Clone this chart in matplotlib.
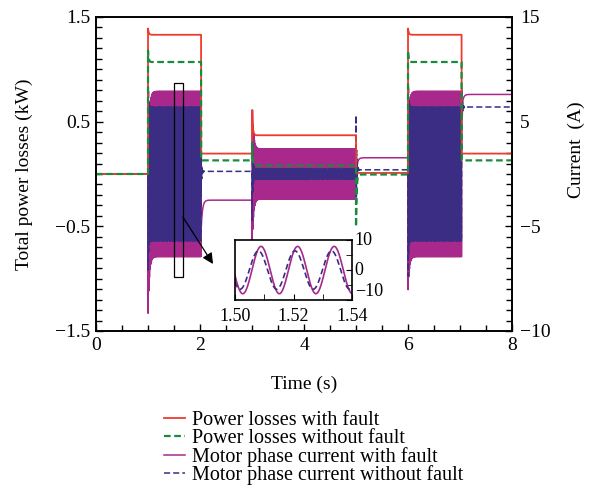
import numpy as np
import matplotlib
matplotlib.use("Agg")
import matplotlib.pyplot as plt
from matplotlib.patches import Rectangle
from matplotlib.ticker import FixedLocator, FixedFormatter, MultipleLocator

plt.rcParams["font.family"] = ["Liberation Serif", "DejaVu Serif"]
plt.rcParams["axes.unicode_minus"] = True

# ---- operating segments (s) ----
seg_edges = [0.0, 1.0, 2.02, 3.0, 5.0, 6.0, 7.03, 8.0]

# total power losses (kW): settled level and start-up overshoot per segment
loss_fault_kw = [0.0, 1.33, 0.195, 0.37, 0.01, 1.33, 0.195]
loss_fault_kick = [0.0, 0.06, 0.0, 0.24, 0.0, 0.06, 0.0]
loss_nofault_kw = [0.0, 1.07, 0.13, 0.08, -0.005, 1.07, 0.13]
loss_nofault_kick = [0.0, 0.11, 0.0, 0.22, -0.5, 0.11, 0.0]

# motor phase current (A): dc level, ac amplitude, transient offset, amplitude surge
cur_fault_dc = [0.0, 0.0, -2.5, 0.0, 1.55, 0.0, 7.6]
cur_fault_amp = [0.0, 7.9, 0.0, 2.4, 0.0, 7.9, 0.0]
cur_fault_kick = [0.0, -6.0, -3.0, 0.0, -1.5, -3.5, -1.5]
cur_fault_surge = [0.0, 0.0, 0.0, 2.2, 0.0, 0.0, 0.0]

cur_nofault_dc = [0.0, 0.0, 0.25, 0.0, 0.4, 0.0, 6.4]
cur_nofault_amp = [0.0, 6.4, 0.0, 0.5, 0.0, 6.4, 0.0]
cur_nofault_kick = [0.0, 0.0, -2.0, 0.0, 5.2, 0.0, -3.0]
cur_nofault_surge = [0.0, 0.5, 0.0, 9.0, 0.0, 0.6, 0.0]

freq_hz = 80.0
phase_fault = -2.903
phase_nofault = -2.45

t = np.linspace(0.0, 8.0, 200001)


def build(levels, kicks, amps=None, surges=None, phase=0.0, tau=0.015, ring=False):
    y = np.zeros_like(t)
    for i in range(len(levels)):
        t0, t1 = seg_edges[i], seg_edges[i + 1]
        m = (t >= t0) & (t < t1) if i < len(levels) - 1 else (t >= t0)
        tau_loc = t[m] - t0
        decay = np.exp(-tau_loc / tau)
        kick = kicks[i] * decay
        if ring:
            kick = kick * np.cos(2 * np.pi * freq_hz * tau_loc)
        val = levels[i] + kick
        if amps is not None and amps[i] > 0:
            a = amps[i] * (1.0 + surges[i] * decay)
            val = val + a * np.sin(2 * np.pi * freq_hz * t[m] + phase)
        y[m] = val
    return y


p_fault = build(loss_fault_kw, loss_fault_kick)
p_nofault = build(loss_nofault_kw, loss_nofault_kick, tau=0.012)
i_fault = build(cur_fault_dc, cur_fault_kick, cur_fault_amp, cur_fault_surge,
                phase_fault, tau=0.025)
i_nofault = build(cur_nofault_dc, cur_nofault_kick, cur_nofault_amp,
                  cur_nofault_surge, phase_nofault, tau=0.012, ring=True)

c_red = "#EE3B2E"
c_green = "#1B8A3C"
c_mag = "#A8288C"
c_blue = "#3B2C84"

fig = plt.figure(figsize=(5.92, 4.91), dpi=100)
ax = fig.add_axes([0.1622, 0.3259, 0.7027, 0.6395])
ax2 = ax.twinx()
ax.set_zorder(ax2.get_zorder() + 1)
ax.patch.set_visible(False)

# currents (right axis, drawn behind)
l_mag, = ax2.plot(t, i_fault, color=c_mag, lw=1.1)
l_blue, = ax2.plot(t, i_nofault, color=c_blue, lw=1.1, ls=(0, (4, 2)))

# power losses (left axis, drawn in front)
l_red, = ax.plot(t, p_fault, color=c_red, lw=1.3)
l_green, = ax.plot(t, p_nofault, color=c_green, lw=1.6, ls=(0, (3, 1.6)))

ax.set_xlim(0, 8)
ax.set_ylim(-1.5, 1.5)
ax2.set_ylim(-15, 15)

fs = 14
ax.xaxis.set_major_locator(FixedLocator([0, 2, 4, 6, 8]))
ax.xaxis.set_minor_locator(MultipleLocator(0.5))
ax.yaxis.set_major_locator(FixedLocator([-1.5, -0.5, 0.5, 1.5]))
ax.yaxis.set_major_formatter(FixedFormatter(["\u22121.5", "\u22120.5", "0.5", "1.5"]))
ax.yaxis.set_minor_locator(MultipleLocator(0.1))
ax2.yaxis.set_major_locator(FixedLocator([-15, -5, 5, 15]))
ax2.yaxis.set_major_formatter(FixedFormatter(["\u221210", "\u22125", "5", "15"]))
ax2.yaxis.set_minor_locator(MultipleLocator(1))

ax.tick_params(which="both", direction="in", top=False, right=False,
               labelsize=fs, pad=4)
ax.tick_params(which="major", length=5, width=1.0)
ax.tick_params(which="minor", length=4, width=1.0)
ax2.tick_params(which="both", direction="in", labelsize=fs, pad=6)
ax2.tick_params(which="major", length=5, width=1.0)
ax2.tick_params(which="minor", length=4, width=1.0)

for a in (ax, ax2):
    for s in a.spines.values():
        s.set_linewidth(1.2)

ax.set_xlabel("Time (s)", fontsize=fs, labelpad=16)
ax.set_ylabel("Total power losses (kW)", fontsize=fs, labelpad=16)
ax2.set_ylabel("Current  (A)", fontsize=fs)
ax2.yaxis.set_label_coords(1.135, 0.576)

# zoom window marker and arrow
ax.add_patch(Rectangle((1.5, -0.98), 0.17, 1.85, fill=False, ec="black",
                       lw=0.9, zorder=5))
ax.annotate("", xy=(2.25, -0.86), xytext=(1.67, -0.41),
            arrowprops=dict(arrowstyle="-|>", color="black", lw=0.9,
                            mutation_scale=16, shrinkA=0, shrinkB=0),
            zorder=5)

# inset: phase currents around t = 1.52 s
axin = fig.add_axes([0.397, 0.389, 0.1976, 0.122])
axin.set_zorder(ax.get_zorder() + 1)
axin.plot(t, i_fault, color=c_mag, lw=1.2)
axin.plot(t, i_nofault, color=c_blue, lw=1.2, ls=(0, (3.5, 2)))
axin.set_xlim(1.50, 1.54)
axin.set_ylim(-10, 10)
axin.xaxis.set_major_locator(FixedLocator([1.50, 1.52, 1.54]))
axin.xaxis.set_major_formatter(FixedFormatter(["1.50", "1.52", "1.54"]))
axin.xaxis.set_minor_locator(FixedLocator([1.51, 1.53]))
axin.yaxis.set_major_locator(FixedLocator([-10, 0, 10]))
axin.yaxis.set_major_formatter(FixedFormatter(["\u221210", "0", "10"]))
axin.yaxis.set_minor_locator(FixedLocator([-5, 5]))
axin.yaxis.tick_right()
axin.tick_params(which="both", direction="in", labelsize=13,
                 left=False, top=False, length=4)
axin.tick_params(axis="y", pad=2)
axin.tick_params(axis="x", pad=6)
for lbl in axin.get_yticklabels():
    lbl.set_verticalalignment("center")
axin.get_yticklabels()[0].set_verticalalignment("bottom")
for s in axin.spines.values():
    s.set_linewidth(1.2)

fig.legend([l_red, l_green, l_mag, l_blue],
           ["Power losses with fault", "Power losses without fault",
            "Motor phase current with fault", "Motor phase current without fault"],
           loc="upper left", bbox_to_anchor=(0.2776, 0.164), frameon=False,
           fontsize=14.5, handlelength=1.05, handletextpad=0.3,
           labelspacing=-0.05, borderpad=0, borderaxespad=0)

fig.savefig("out.png", dpi=100)
